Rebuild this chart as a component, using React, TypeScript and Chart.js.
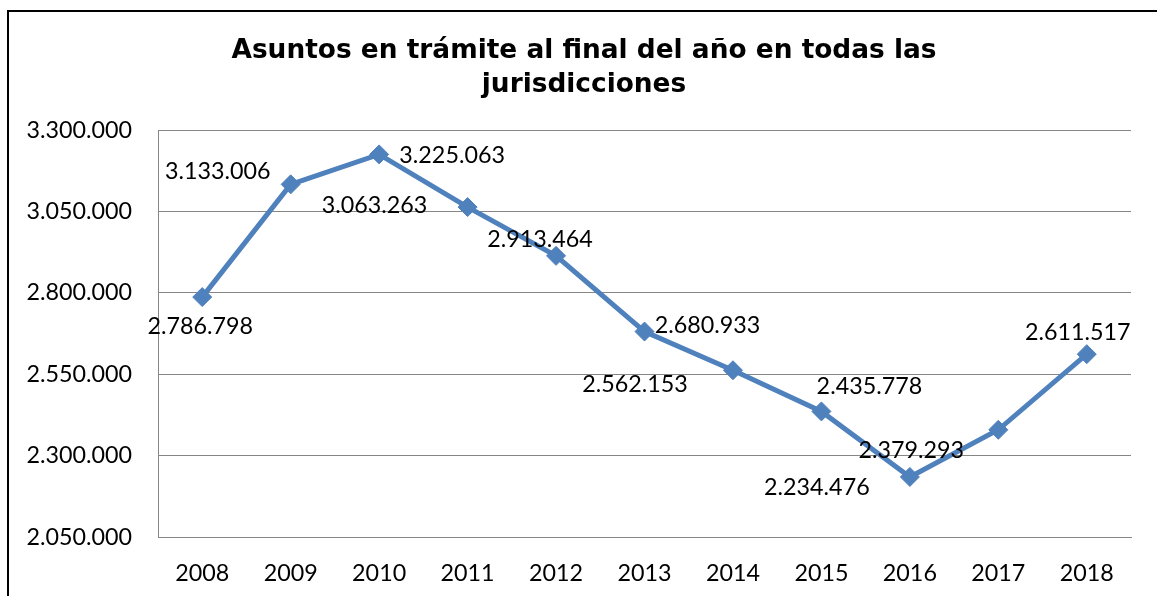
import React, { useEffect, useRef } from "react";
import { Chart, registerables } from "chart.js";

Chart.register(...registerables);

const years = ["2008", "2009", "2010", "2011", "2012", "2013", "2014", "2015", "2016", "2017", "2018"];
const asuntos = [2786798, 3133006, 3225063, 3063263, 2913464, 2680933, 2562153, 2435778, 2234476, 2379293, 2611517];
const titleLines = ["Asuntos en trámite al final del año en todas las", "jurisdicciones"];
const yMin = 2050000;
const yMax = 3300000;
const yStep = 250000;

// label placement offsets (label centre relative to point), style only
const labelOffsets: [number, number][] = [
  [-2, 29], [-73, -13], [73, 1], [-93, -2], [-16, -16], [63, -6],
  [-98, 14], [48, -25], [-93, 11], [-87, 21], [-9, -22],
];

const fmt = (v: number) => Math.round(v).toString().replace(/\B(?=(\d{3})+(?!\d))/g, ".");

const LABEL_FONT = "Lato, 'Open Sans', sans-serif";
const FONT_SIZE = 23.3;

const framePlugin = {
  id: "frame",
  beforeDraw(chart: any) {
    const ctx = chart.ctx;
    ctx.save();
    ctx.fillStyle = "#ffffff";
    ctx.fillRect(0, 0, chart.width, chart.height);
    ctx.strokeStyle = "#000000";
    ctx.lineWidth = 2;
    ctx.beginPath();
    ctx.moveTo(8, chart.height + 5);
    ctx.lineTo(8, 11);
    ctx.lineTo(chart.width + 5, 11);
    ctx.stroke();
    ctx.restore();
  },
  afterDraw(chart: any) {
    const ctx = chart.ctx;
    ctx.save();
    ctx.font = "bold 26.4px 'DejaVu Sans', Verdana, sans-serif";
    ctx.fillStyle = "#000000";
    ctx.textAlign = "center";
    ctx.textBaseline = "alphabetic";
    ctx.fillText(titleLines[0], 584, 58);
    ctx.fillText(titleLines[1], 584, 92);
    ctx.restore();
  },
};

const labelPlugin = {
  id: "pointLabels",
  afterDatasetsDraw(chart: any) {
    const ctx = chart.ctx;
    const meta = chart.getDatasetMeta(0);
    const data = chart.data.datasets[0].data as number[];
    ctx.save();
    ctx.font = `${FONT_SIZE}px ${LABEL_FONT}`;
    ctx.fillStyle = "#000000";
    ctx.textAlign = "center";
    ctx.textBaseline = "middle";
    meta.data.forEach((pt: any, i: number) => {
      const [dx, dy] = labelOffsets[i] || [0, -20];
      ctx.fillText(fmt(data[i]), pt.x + dx, pt.y + dy);
    });
    ctx.restore();
  },
};

export default function App() {
  const ref = useRef<HTMLCanvasElement | null>(null);
  useEffect(() => {
    if (!ref.current) return;
    const chart = new Chart(ref.current, {
      type: "line",
      data: {
        labels: years,
        datasets: [
          {
            data: asuntos,
            borderColor: "#4F81BD",
            backgroundColor: "#4F81BD",
            borderWidth: 5,
            pointStyle: "rectRot",
            pointRadius: 9.5,
            pointBorderWidth: 1,
            pointBackgroundColor: "#4F81BD",
            pointBorderColor: "#4F81BD",
            tension: 0,
          },
        ],
      },
      options: {
        animation: false,
        responsive: false,
        maintainAspectRatio: false,
        layout: { padding: { top: 130, left: 0, right: 26, bottom: 0 } },
        plugins: {
          legend: { display: false },
          tooltip: { enabled: false },
          title: { display: false },
        },
        scales: {
          x: {
            offset: true,
            grid: { display: false, drawTicks: false },
            border: { display: true, color: "#868686", width: 1 },
            ticks: { color: "#000000", font: { family: LABEL_FONT, size: FONT_SIZE }, padding: 22 },
            afterFit(scale: any) {
              scale.height = 59;
            },
          },
          y: {
            min: yMin,
            max: yMax,
            grid: { color: "#868686", lineWidth: 1, drawTicks: false },
            border: { display: true, color: "#868686", width: 1 },
            ticks: {
              stepSize: yStep,
              color: "#000000",
              font: { family: LABEL_FONT, size: FONT_SIZE },
              padding: 26,
              callback: (v: any) => fmt(Number(v)),
            },
            afterFit(scale: any) {
              scale.width = 158;
            },
          },
        },
      },
      plugins: [framePlugin, labelPlugin],
    });
    return () => chart.destroy();
  }, []);
  return (
    <div style={{ position: "fixed", left: 0, top: 0, width: 1157, height: 596, background: "#fff" }}>
      <canvas ref={ref} width={1157} height={596} style={{ display: "block" }} />
    </div>
  );
}
